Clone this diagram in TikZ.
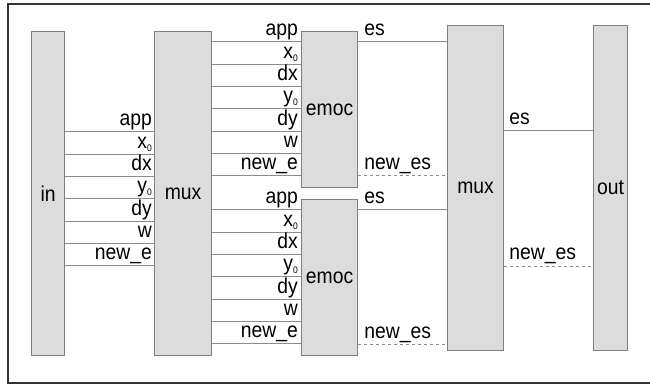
\documentclass[tikz,border=0pt]{standalone}
\usepackage{fontspec}
\setmainfont[FakeStretch=0.9]{Liberation Sans}
\definecolor{boxfill}{HTML}{DCDCDC}
\definecolor{boxline}{HTML}{7F7F7F}
\definecolor{sigline}{HTML}{8C8C8C}
\definecolor{frame}{HTML}{333333}
\newcommand\lblfont{\fontsize{21.5}{23}\selectfont}
\newcommand\subz{\raisebox{-3pt}{\fontsize{9.5}{9.5}\selectfont 0}}
\tikzset{
  blk/.style={draw=boxline, fill=boxfill, line width=1.2pt, anchor=north west,
    inner sep=0pt, font=\lblfont, text=black},
  sig/.style={draw=sigline, line width=1pt},
  dsig/.style={sig, dash pattern=on 3pt off 3pt},
  lab/.style={inner sep=0pt, font=\lblfont, text=black},
}
\begin{document}
\begin{tikzpicture}[x=1pt,y=-1pt]
\useasboundingbox (0,0) rectangle (650,387);
% frame (open on the right)
\coordinate (ftr) at (650,4);
\coordinate (ftl) at (8,4);
\coordinate (fbl) at (8,383);
\coordinate (fbr) at (650,383);
\draw[frame, line width=1.6pt] (ftr) -- (ftl) -- (fbl) -- (fbr);
% blocks
\node[blk, minimum width=33pt, minimum height=324pt] (in)    at (31,31)  {in};
\node[blk, minimum width=57pt, minimum height=324pt] (mux1)  at (154,31) {mux};
\node[blk, minimum width=56pt, minimum height=156pt] (emoc1) at (301,31) {emoc};
\node[blk, minimum width=56pt, minimum height=156pt] (emoc2) at (301,199) {emoc};
\node[blk, minimum width=56pt, minimum height=325pt] (mux2)  at (447,25) {mux};
\node[blk, minimum width=34pt, minimum height=325pt] (out)   at (593,25) {out};
% in -> mux1
\foreach \t [count=\i from 0] in {app,x\subz,dx,y\subz,dy,w,new\_e} {
  \coordinate (a\i) at (0,{132+22.333*\i});
  \draw[sig] (in.east |- a\i) -- (mux1.west |- a\i);
  \node[lab, anchor=base east] (la\i) at ([xshift=-2pt,yshift=6pt]mux1.west |- a\i) {\t};
}
% mux1 -> emoc1
\foreach \t [count=\i from 0] in {app,x\subz,dx,y\subz,dy,w,new\_e} {
  \coordinate (b\i) at (0,{42+22.333*\i});
  \draw[sig] (mux1.east |- b\i) -- (emoc1.west |- b\i);
  \node[lab, anchor=base east] (lb\i) at ([xshift=-3pt,yshift=6pt]emoc1.west |- b\i) {\t};
}
% mux1 -> emoc2
\foreach \t [count=\i from 0] in {app,x\subz,dx,y\subz,dy,w,new\_e} {
  \coordinate (c\i) at (0,{210+22.333*\i});
  \draw[sig] (mux1.east |- c\i) -- (emoc2.west |- c\i);
  \node[lab, anchor=base east] (lc\i) at ([xshift=-3pt,yshift=6pt]emoc2.west |- c\i) {\t};
}
% emoc -> mux2
\coordinate (e1) at (0,42);
\coordinate (n1) at (0,176);
\coordinate (e2) at (0,210);
\coordinate (n2) at (0,344);
\draw[sig]  (emoc1.east |- e1) -- (mux2.west |- e1);
\draw[dsig] (emoc1.east |- n1) -- (mux2.west |- n1);
\draw[sig]  (emoc2.east |- e2) -- (mux2.west |- e2);
\draw[dsig] (emoc2.east |- n2) -- (mux2.west |- n2);
\node[lab, anchor=base west] (le1) at ([xshift=6pt,yshift=6pt]emoc1.east |- e1) {es};
\node[lab, anchor=base west] (ln1) at ([xshift=6pt,yshift=6pt]emoc1.east |- n1) {new\_es};
\node[lab, anchor=base west] (le2) at ([xshift=6pt,yshift=6pt]emoc2.east |- e2) {es};
\node[lab, anchor=base west] (ln2) at ([xshift=6pt,yshift=6pt]emoc2.east |- n2) {new\_es};
% mux2 -> out
\coordinate (e3) at (0,131);
\coordinate (n3) at (0,266);
\draw[sig]  (mux2.east |- e3) -- (out.west |- e3);
\draw[dsig] (mux2.east |- n3) -- (out.west |- n3);
\node[lab, anchor=base west] (le3) at ([xshift=5pt,yshift=6pt]mux2.east |- e3) {es};
\node[lab, anchor=base west] (ln3) at ([xshift=5pt,yshift=6pt]mux2.east |- n3) {new\_es};
\end{tikzpicture}
\end{document}
